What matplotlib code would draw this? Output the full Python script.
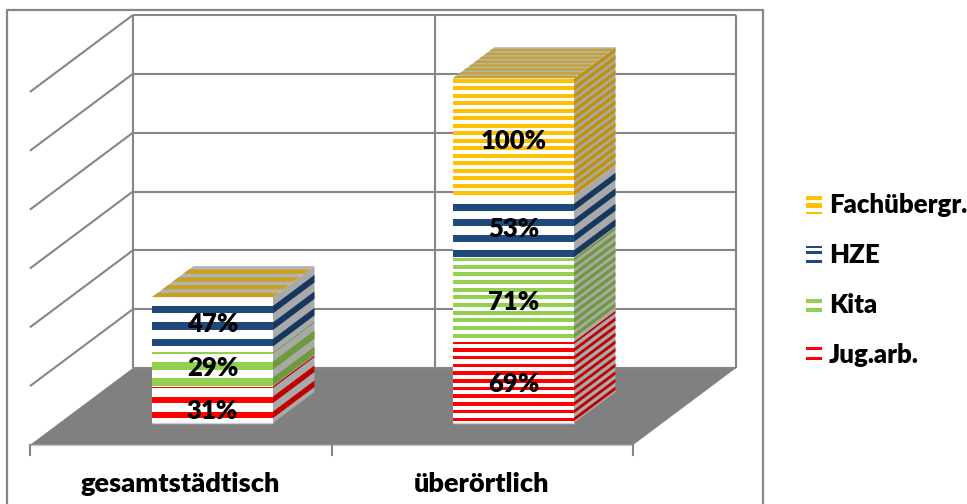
import numpy as np
import matplotlib
matplotlib.use('Agg')
import matplotlib.pyplot as plt
from matplotlib.patches import Polygon, Rectangle
from matplotlib.transforms import Affine2D

# data
categories = ['gesamtstädtisch', 'überörtlich']
series_names = ['Jug.arb.', 'Kita', 'HZE', 'Fachübergr.']
jug_arb = [31, 69]
kita = [29, 71]
hze = [47, 53]
fach = [0, 100]
value_ticks = [0, 50, 100, 150, 200, 250, 300]

# style: colours and stripe pattern (period, width, offset in px) per series and bar
front_colors = ['#ff0000', '#92d050', '#1f497d', '#ffc000']
side_colors = ['#c00000', '#6f9a3c', '#17375e', '#c29200']
stripes = [
    [(15, 6.5, 5), (7.7, 3.5, 2)],
    [(16, 8, 1), (7.7, 4, 4)],
    [(16.5, 7.5, 6), (15.5, 7, 1)],
    [(7.5, 4, 0.5), (7.5, 4, 0.5)],
]
top_period = [6.5, 3.5]
label_nudge = [[-6, 1, 1], [-2, -2, -2, -4]]
legend_y = [355, 305, 255, 205]
legend_bars = [
    [(347, 2.5), (356.5, 3)],
    [(299, 4), (308, 4)],
    [(246, 1.5), (251, 2.5), (260, 3)],
    [(196, 4), (203, 5), (212, 1.5)],
]

W, H = 967, 504
PX_X, PX_Y = 301.0, 353 / 300      # px per category, px per percent
DX, DY = 103 / PX_X, 77 / PX_Y     # shift of full floor depth in data units
FLOOR_L, FLOOR_M, FLOOR_R = -0.507, 0.497, 1.497
BAR_HALF = 60.5 / PX_X
BAR_SHIFT = 0.6 / PX_X
D0, D1 = 22 / 77, 53 / 77          # bar depth range on the floor
GRID = '#868686'
FONT = 'Lato'

fig = plt.figure(figsize=(W / 100, H / 100), dpi=100)
ax = fig.add_axes([0, 0, 1, 1])
ax.set_xlim(-182.5 / PX_X, (W - 182.5) / PX_X)
ax.set_ylim((445 - H) / PX_Y, 445 / PX_Y)
ax.axis('off')

# pixel space for frame and legend
px = Affine2D().scale(1, -1).translate(0, H)


def proj(x, v, d):
    return x + d * DX, v + d * DY


def quad(points, color, z):
    ax.add_patch(Polygon([proj(*p) for p in points], closed=True, fc=color, ec='none', zorder=z))


def line(points, z=2, lw=1.5, color=GRID):
    xy = np.array([proj(*p) for p in points])
    ax.plot(xy[:, 0], xy[:, 1], color=color, lw=lw, zorder=z, solid_capstyle='butt')


# outer frame
ax.plot([7, 7, 763, 763], [504, 10, 10, 504], color='#868686', lw=1.6, transform=px, clip_on=False)

# floor
quad([(FLOOR_L, 0, 0), (FLOOR_R, 0, 0), (FLOOR_R, 0, 1), (FLOOR_L, 0, 1)], '#808080', 1)
line([(FLOOR_L, 0, 0), (FLOOR_R, 0, 0)], lw=1, color='#c8c8c8')

# walls and grid
for v in value_ticks:
    line([(FLOOR_L, v, 1), (FLOOR_R, v, 1)])
    if v > 0:
        line([(FLOOR_L, v, 0), (FLOOR_L, v, 1)])
for x in [FLOOR_L, FLOOR_M, FLOOR_R]:
    line([(x, 0, 1), (x, value_ticks[-1], 1)])
    ax.plot([x, x], [0, -10 / PX_Y], color=GRID, lw=1.5, zorder=2)

# stacked bars
table = [jug_arb, kita, hze, fach]
for c in range(len(categories)):
    xl, xr = c + BAR_SHIFT - BAR_HALF, c + BAR_SHIFT + BAR_HALF
    base = 0
    for s in range(len(table)):
        val = table[s][c]
        if val == 0:
            continue
        top = base + val
        quad([(xl, base, D0), (xr, base, D0), (xr, top, D0), (xl, top, D0)], 'white', 5)
        quad([(xr, base, D0), (xr, base, D1), (xr, top, D1), (xr, top, D0)], '#a9a9a9', 5)
        period, width, offset = stripes[s][c]
        for start in np.arange(offset, val * PX_Y, period):
            lo = base + start / PX_Y
            hi = min(lo + width / PX_Y, top)
            quad([(xl, lo, D0), (xr, lo, D0), (xr, hi, D0), (xl, hi, D0)], front_colors[s], 6)
            quad([(xr, lo, D0), (xr, lo, D1), (xr, hi, D1), (xr, hi, D0)], side_colors[s], 6)
        lx, ly = proj(c + BAR_SHIFT, (base + top) / 2 + label_nudge[c][s] / PX_Y, D0)
        ax.text(lx, ly, '%d%%' % val, ha='center', va='center', fontsize=18.5,
                fontweight='heavy', family=FONT, color='black', zorder=10)
        base = top
    # top face
    quad([(xl, base, D0), (xr, base, D0), (xr, base, D1), (xl, base, D1)], '#b3b3b3', 7)
    depth_px = (D1 - D0) * 77
    n = int(depth_px / top_period[c])
    for i in range(n):
        d_lo = D0 + (D1 - D0) * i / n
        d_hi = D0 + (D1 - D0) * (i + 0.55) / n
        quad([(xl, base, d_lo), (xr, base, d_lo), (xr, base, d_hi), (xl, base, d_hi)], '#c9a020', 8)

# light line along bar bottoms
for c in range(len(categories)):
    line([(c + BAR_SHIFT - BAR_HALF, 0, D0), (c + BAR_SHIFT + BAR_HALF, 0, D0)], z=9, lw=1, color='#d0d0d0')

# category labels
for c, name in enumerate(categories):
    ax.text(c - 0.008, -39.5 / PX_Y, name, ha='center', va='center', fontsize=19.5,
            fontweight='heavy', family=FONT, color='black')

# legend
for s, name in enumerate(series_names):
    for y0, h in legend_bars[s]:
        ax.add_patch(Rectangle((806, y0), 16, h, fc=front_colors[s], ec='none', transform=px))
    ax.text(829, legend_y[s], name, ha='left', va='center', fontsize=18.5,
            fontweight='heavy', family=FONT, color='black', transform=px)

fig.savefig('out.png', dpi=100)
